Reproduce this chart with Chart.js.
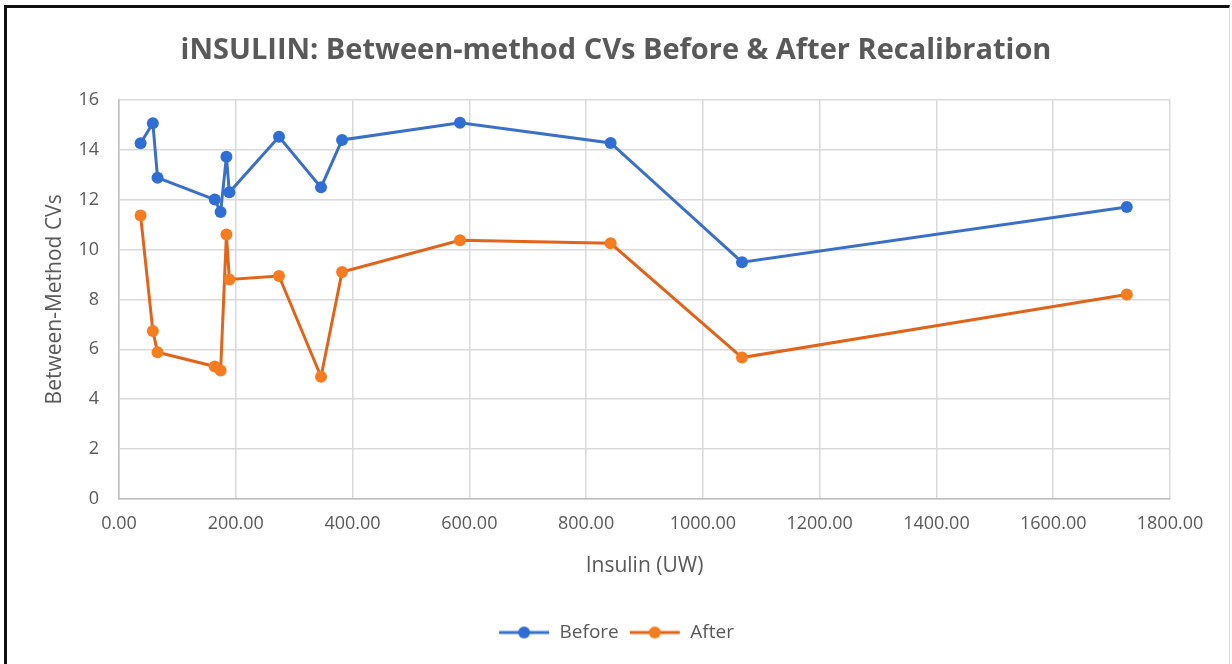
<!DOCTYPE html>
<html>
<head>
<meta charset="utf-8">
<script src="https://cdn.jsdelivr.net/npm/chart.js@4/dist/chart.umd.min.js"></script>
<style>
  html, body { margin: 0; padding: 0; background: #fff; }
  #wrap { position: relative; width: 1232px; height: 664px; overflow: hidden; }
  #frame { position: absolute; left: 4px; top: 5px; width: 1222px; height: 700px;
           border-left: 3px solid #111; border-top: 3px solid #111; border-right: 1px solid #ddd; }
  canvas { position: absolute; left: 0; top: 0; }
</style>
</head>
<body>
<div id="wrap">
  <div id="frame"></div>
  <canvas id="myChart" width="1232" height="664"></canvas>
</div>
<script>
// insulin levels (x) shared by both series
var insulin = [37, 58, 66, 164, 174, 184, 189, 274, 346, 382, 584, 842, 1067, 1726];
var before  = [14.26, 15.06, 12.88, 12.0, 11.5, 13.72, 12.29, 14.52, 12.49, 14.39, 15.08, 14.27, 9.49, 11.7];
var after   = [11.36, 6.73, 5.88, 5.31, 5.15, 10.6, 8.8, 8.94, 4.9, 9.1, 10.37, 10.25, 5.67, 8.2];

var blueLine = '#3A70C8', bluePoint = '#2F6FD3';
var orangeLine = '#E0641A', orangePoint = '#F57C1F';
var grey = '#595959';
var font = "'Open Sans', 'Liberation Sans', sans-serif";

function toPoints(ys) {
  return insulin.map(function (x, i) { return { x: x, y: ys[i] }; });
}

// legend icon: short line with a dot in the middle
function legendIcon(lineCol, dotCol) {
  var c = document.createElement('canvas');
  c.width = 52; c.height = 16;
  var g = c.getContext('2d');
  g.strokeStyle = lineCol;
  g.lineWidth = 3;
  g.beginPath(); g.moveTo(1, 8); g.lineTo(51, 8); g.stroke();
  g.fillStyle = dotCol;
  g.beginPath(); g.arc(26, 8, 6, 0, Math.PI * 2); g.fill();
  return c;
}
var icons = [legendIcon(blueLine, bluePoint), legendIcon(orangeLine, orangePoint)];

let ctx = document.getElementById('myChart').getContext('2d');
let myChart = new Chart(ctx, {
  type: 'scatter',
  data: {
    datasets: [{
      label: 'Before',
      data: toPoints(before),
      showLine: true,
      borderColor: blueLine,
      borderWidth: 3,
      backgroundColor: bluePoint,
      pointBackgroundColor: bluePoint,
      pointBorderColor: bluePoint,
      pointRadius: 6,
      pointBorderWidth: 0
    }, {
      label: 'After',
      data: toPoints(after),
      showLine: true,
      borderColor: orangeLine,
      borderWidth: 3,
      backgroundColor: orangePoint,
      pointBackgroundColor: orangePoint,
      pointBorderColor: orangePoint,
      pointRadius: 6,
      pointBorderWidth: 0
    }]
  },
  options: {
    responsive: false,
    animation: false,
    layout: { padding: { left: 0, right: 0, top: 0, bottom: 12 } },
    plugins: {
      title: {
        display: true,
        text: 'iNSULIIN: Between-method CVs Before & After Recalibration',
        color: grey,
        font: { family: font, size: 29, weight: 'bold' },
        padding: { top: 33, bottom: 32 }
      },
      legend: {
        position: 'bottom',
        labels: {
          usePointStyle: true,
          pointStyleWidth: 52,
          boxHeight: 16,
          color: grey,
          padding: 10,
          font: { family: font, size: 19 },
          generateLabels: function (chart) {
            var items = Chart.defaults.plugins.legend.labels.generateLabels(chart);
            items.forEach(function (it, i) { it.pointStyle = icons[i]; });
            return items;
          }
        }
      },
      tooltip: { enabled: false }
    },
    scales: {
      x: {
        type: 'linear',
        min: 0,
        max: 1800,
        ticks: {
          stepSize: 200,
          color: grey,
          padding: 14,
          font: { family: font, size: 18 },
          callback: function (v) { return v.toFixed(2); }
        },
        grid: { color: '#d9d9d9', lineWidth: 1.5, drawTicks: false },
        border: { color: '#bfbfbf', width: 1.5 },
        title: {
          display: true,
          text: 'Insulin (UW)',
          color: grey,
          font: { family: font, size: 21 },
          padding: { top: 0, bottom: 34 }
        },
        afterFit: function (s) { s.height = 114; }
      },
      y: {
        min: 0,
        max: 16,
        ticks: {
          stepSize: 2,
          color: grey,
          padding: 20,
          font: { family: font, size: 18 }
        },
        grid: { color: '#d9d9d9', lineWidth: 1.5, drawTicks: false },
        border: { color: '#bfbfbf', width: 1.5 },
        title: {
          display: true,
          text: 'Between-Method CVs',
          color: grey,
          font: { family: font, size: 21 },
          padding: { top: 42, bottom: 0 }
        },
        afterFit: function (s) { s.width = 119; }
      },
      // empty right axis, only keeps the plot's right margin
      yRight: {
        position: 'right',
        min: 0,
        max: 16,
        ticks: { display: false },
        grid: { display: false },
        border: { display: false },
        afterFit: function (s) { s.width = 62; }
      }
    }
  }
});
</script>
</body>
</html>
